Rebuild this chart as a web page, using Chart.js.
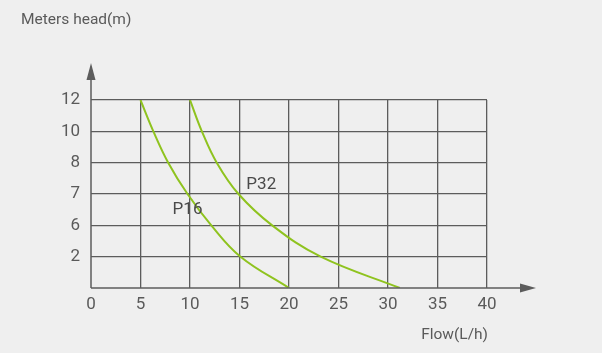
<!DOCTYPE html>
<html>
<head>
<meta charset="utf-8">
<script src="https://cdn.jsdelivr.net/npm/chart.js@4.4.1/dist/chart.umd.min.js"></script>
<style>
    html, body { margin: 0; padding: 0; background: #efefef; }
    #grafico { display: block; }
</style>
</head>
<body>
<canvas id="grafico" width="602" height="353"></canvas>
<script>
// eixo y: rótulos em posições igualmente espaçadas
const rotulosY = ['', '2', '6', '7', '8', '10', '12'];
const ticksX = [0, 5, 10, 15, 20, 25, 30, 35, 40];

// curvas (x = vazão, y = posição no eixo)
const vazaoP16 = [5, 6.3, 7.8, 9.75, 12.15, 15.1, 20];
const posP16 = [6, 5, 4, 3, 2, 1, 0];
const vazaoP32 = [10, 11.2, 12.7, 14.9, 18.3, 23.2, 31.2];
const posP32 = [6, 5, 4, 3, 2, 1, 0];

const corTexto = '#5a5a5a';
const corGrade = '#5c5c5c';
const verde = '#8fc31f';
const fonte = "'Roboto', sans-serif";

function montarPontos(xs, ys){
    let pontos = [];
    for(let i = 0; i < xs.length; i++){
        pontos.push({ x: xs[i], y: ys[i] });
    }
    return pontos;
}

const extras = {
    id: 'extras',
    afterDraw(chart){
        const ctx = chart.ctx;
        const x0 = chart.scales.x.getPixelForValue(0);
        const y0 = chart.scales.y.getPixelForValue(0);

        ctx.save();
        ctx.strokeStyle = corGrade;
        ctx.fillStyle = corGrade;
        ctx.lineWidth = 1.5;

        // eixo x com seta
        ctx.beginPath();
        ctx.moveTo(x0, y0);
        ctx.lineTo(522, y0);
        ctx.stroke();
        ctx.beginPath();
        ctx.moveTo(536, y0);
        ctx.lineTo(520, y0 - 4.5);
        ctx.lineTo(520, y0 + 4.5);
        ctx.closePath();
        ctx.fill();

        // eixo y com seta
        ctx.beginPath();
        ctx.moveTo(x0, y0);
        ctx.lineTo(x0, 78);
        ctx.stroke();
        ctx.beginPath();
        ctx.moveTo(x0, 63);
        ctx.lineTo(x0 - 4.5, 80);
        ctx.lineTo(x0 + 4.5, 80);
        ctx.closePath();
        ctx.fill();

        // textos
        ctx.fillStyle = corTexto;
        ctx.font = "15.5px " + fonte;
        ctx.textBaseline = 'middle';
        ctx.textAlign = 'left';
        ctx.fillText('Meters head(m)', 21, 20);
        ctx.textAlign = 'right';
        ctx.fillText('Flow(L/h)', 488, 335);

        ctx.fillStyle = '#4a4a4a';
        ctx.font = "17px " + fonte;
        ctx.textAlign = 'center';
        ctx.fillText('P32', chart.scales.x.getPixelForValue(17.2), chart.scales.y.getPixelForValue(3.28));
        ctx.fillText('P16', chart.scales.x.getPixelForValue(9.75), chart.scales.y.getPixelForValue(2.5));
        ctx.restore();
    }
};

const config = {
    type: 'scatter',
    data: {
        datasets: [
            {
                label: 'P16',
                data: montarPontos(vazaoP16, posP16),
                showLine: true,
                borderColor: verde,
                borderWidth: 2,
                pointRadius: 0,
                tension: 0.4
            },
            {
                label: 'P32',
                data: montarPontos(vazaoP32, posP32),
                showLine: true,
                borderColor: verde,
                borderWidth: 2,
                pointRadius: 0,
                tension: 0.4
            }
        ]
    },
    options: {
        responsive: false,
        animation: false,
        layout: {
            padding: { left: 0, top: 100, right: 115, bottom: 0 }
        },
        plugins: {
            legend: { display: false },
            tooltip: { enabled: false }
        },
        scales: {
            x: {
                type: 'linear',
                min: 0,
                max: 40,
                afterBuildTicks: (escala) => {
                    escala.ticks = ticksX.map(v => ({ value: v }));
                },
                afterFit: (escala) => { escala.height = 65; },
                border: { display: false },
                grid: {
                    color: corGrade,
                    lineWidth: (c) => c.tick && c.tick.value === 0 ? 0 : 1.3,
                    drawTicks: false
                },
                ticks: {
                    color: corTexto,
                    padding: 7,
                    font: { family: fonte, size: 17 }
                }
            },
            y: {
                type: 'linear',
                min: 0,
                max: 6,
                afterBuildTicks: (escala) => {
                    escala.ticks = rotulosY.map((r, i) => ({ value: i }));
                },
                afterFit: (escala) => { escala.width = 91; },
                border: { display: false },
                grid: {
                    color: corGrade,
                    lineWidth: (c) => c.tick && c.tick.value === 0 ? 0 : 1.3,
                    drawTicks: false
                },
                ticks: {
                    color: corTexto,
                    padding: 11,
                    font: { family: fonte, size: 17 },
                    callback: (valor) => rotulosY[valor]
                }
            }
        }
    },
    plugins: [extras]
};

const grafico = new Chart(document.getElementById('grafico').getContext('2d'), config);
</script>
</body>
</html>
